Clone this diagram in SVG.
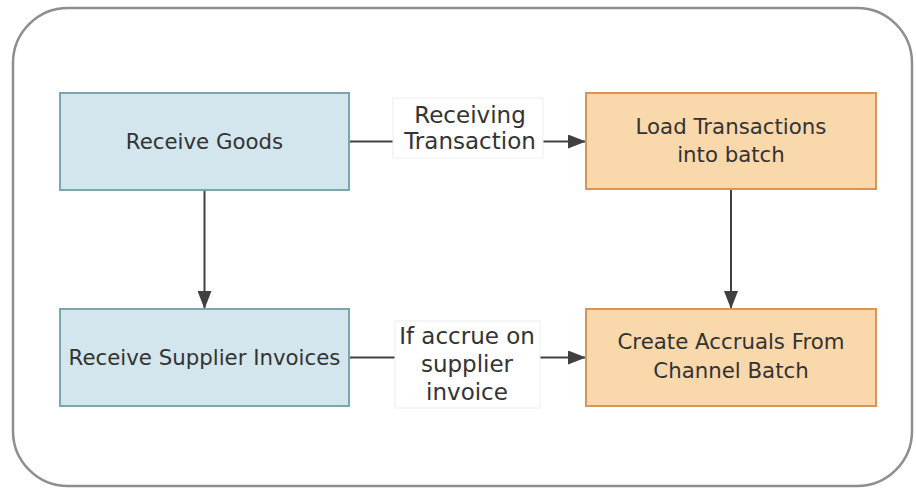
<svg xmlns="http://www.w3.org/2000/svg" width="916" height="488" viewBox="0 0 916 488">
<defs>
<style>
.frame{fill:#ffffff;stroke:#8e8e8e;stroke-width:2.5}
.blue{fill:#d3e6ed;stroke:#7aa6b1;stroke-width:2}
.orange{fill:#f9d8ac;stroke:#d9945a;stroke-width:2}
.t{font-family:"DejaVu Sans",sans-serif;font-size:21.3px;fill:#333333;text-anchor:middle}
.lt{font-family:"DejaVu Sans",sans-serif;font-size:23px;fill:#333333;text-anchor:middle}
.lbg{fill:#ffffff;stroke:#eeeeee;stroke-width:1}
.c{stroke:#404040;stroke-width:2;fill:none}
</style>
<marker id="ah" markerWidth="18" markerHeight="14" refX="18" refY="7" orient="auto" markerUnits="userSpaceOnUse">
<path d="M0,0 L18,7 L0,14 Z" fill="#404040"/>
</marker>
</defs>
<rect class="frame" x="13" y="8" width="899" height="478" rx="55" ry="55"/>
<g id="connectors">
<path class="c" d="M349,141.5 L586,141.5" marker-end="url(#ah)"/>
<path class="c" d="M349,357.5 L586,357.5" marker-end="url(#ah)"/>
<path class="c" d="M204.5,190 L204.5,309" marker-end="url(#ah)"/>
<path class="c" d="M731,189 L731,309" marker-end="url(#ah)"/>
<g id="label-receiving">
<rect class="lbg" x="393" y="98" width="150" height="60"/>
<text class="lt" x="470" y="123">Receiving</text>
<text class="lt" x="470" y="149">Transaction</text>
</g>
<g id="label-accrue">
<rect class="lbg" x="395" y="321" width="145" height="87"/>
<text class="lt" x="467" y="344">If accrue on</text>
<text class="lt" x="467" y="372">supplier</text>
<text class="lt" x="467" y="400">invoice</text>
</g>
</g>
<g id="receive-goods">
<rect class="blue" x="60" y="93" width="289" height="97"/>
<text class="t" x="204.5" y="149">Receive Goods</text>
</g>
<g id="load-transactions">
<rect class="orange" x="586" y="93" width="290" height="96"/>
<text class="t" x="731" y="134">Load Transactions</text>
<text class="t" x="731" y="162">into batch</text>
</g>
<g id="receive-supplier-invoices">
<rect class="blue" x="60" y="309" width="289" height="97"/>
<text class="t" x="204.5" y="365">Receive Supplier Invoices</text>
</g>
<g id="create-accruals">
<rect class="orange" x="586" y="309" width="290" height="97"/>
<text class="t" x="731" y="349">Create Accruals From</text>
<text class="t" x="731" y="378">Channel Batch</text>
</g>
</svg>
